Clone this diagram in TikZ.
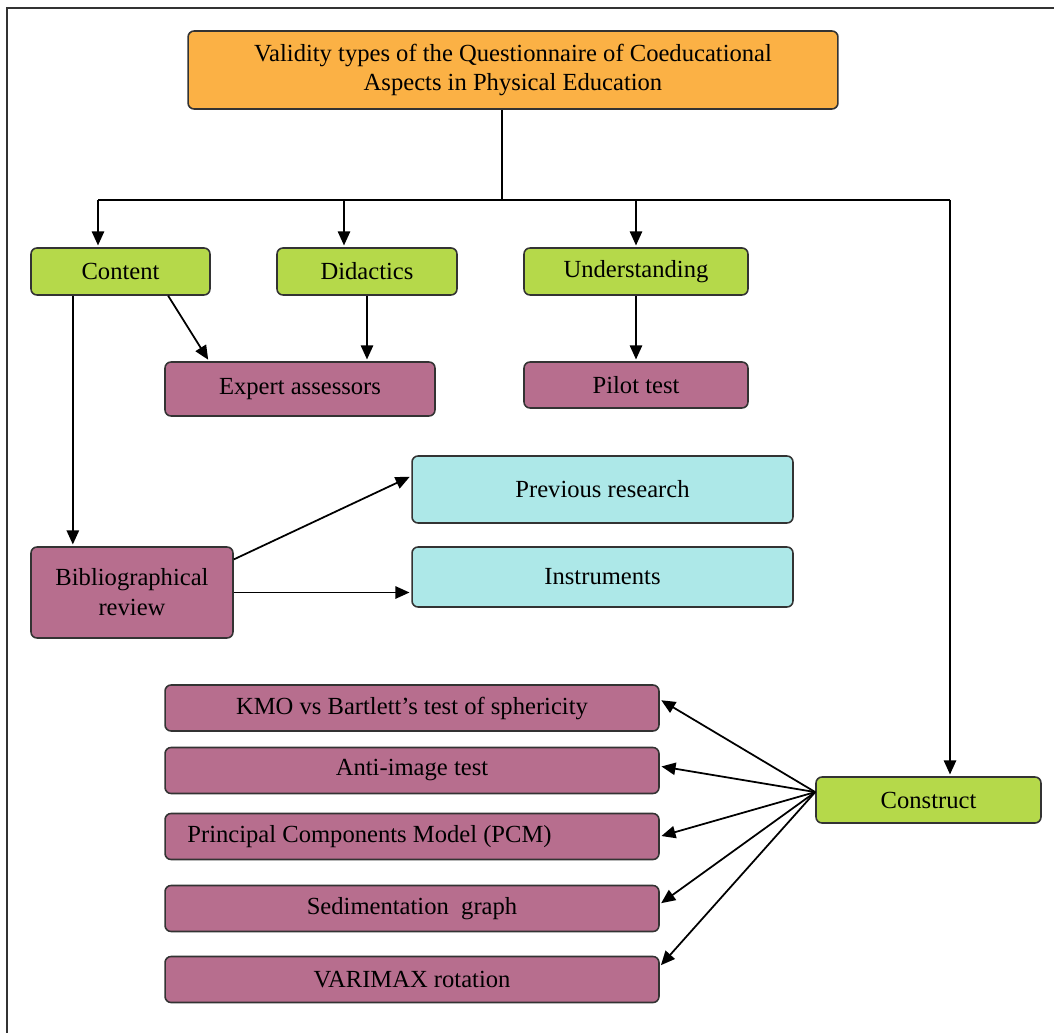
\documentclass[tikz,border=0pt]{standalone}
\usepackage{fontspec}
\setmainfont{Liberation Serif}
\usepackage{tikz}
\usetikzlibrary{arrows.meta,calc}

\definecolor{titleorange}{HTML}{FBB145}
\definecolor{typegreen}{HTML}{B5D94A}
\definecolor{procmauve}{HTML}{B76E8E}
\definecolor{srccyan}{HTML}{ADE8E8}
\definecolor{edgegray}{HTML}{333333}

\begin{document}
\begin{tikzpicture}[
    x=0.02cm, y=-0.02cm,
    box/.style={draw=edgegray, line width=0.9pt, rounded corners=0.12cm,
                inner sep=1pt, align=center,
                font=\fontsize{14}{17}\selectfont},
    headbox/.style={box, fill=titleorange},
    typebox/.style={box, fill=typegreen, minimum height=0.94cm},
    procbox/.style={box, fill=procmauve},
    srcbox/.style={box, fill=srccyan, minimum width=7.62cm},
    testbox/.style={procbox, minimum width=9.88cm, minimum height=0.92cm},
    arr/.style={-{Triangle[length=8pt,width=7pt]}, line width=1pt, shorten >=1pt},
    link/.style={line width=1pt}
]
\useasboundingbox (0,0) rectangle (1054,1033);

% frame (cut off at right and bottom)
\draw[line width=1.1pt, edgegray] (7,1033) -- (7,8) -- (1054,8);

% ================================================================
%  Title and the four validity types
% ================================================================
\node[headbox, minimum width=13cm, minimum height=1.56cm] (title) at (513,70)
    {Validity types of the Questionnaire of Coeducational\\ Aspects in Physical Education};

\node[typebox, minimum width=3.58cm] (content)    at (120.5,271.5) {Content};
\node[typebox, minimum width=3.6cm]  (didactics)  at (367,271.5)   {Didactics};
\node[typebox, minimum width=4.48cm] (understand) at (636,271.5)   {Understanding};
\node[typebox, minimum width=4.5cm, minimum height=0.92cm] (construct) at (928.5,800) {Construct};

% bus under the title
\coordinate (busM) at (502,200);
\coordinate (busL) at (98,200);
\coordinate (busD) at (344,200);
\coordinate (busU) at (636,200);
\coordinate (busR) at (950,200);

\draw[link] (title.south -| busM) -- (busM);
\draw[link] (busL) -- (busR);
\draw[arr] (busL) -- (busL |- content.north);
\draw[arr] (busD) -- (busD |- didactics.north);
\draw[arr] (busU) -- (busU |- understand.north);
\draw[arr] (busR) -- (busR |- construct.north);

% ================================================================
%  Content / Didactics / Understanding procedures
% ================================================================
\node[procbox, minimum width=5.4cm, minimum height=1.08cm] (expert) at (300,389) {Expert assessors};
\node[procbox, minimum width=4.48cm, minimum height=0.92cm] (pilot) at (636,385) {Pilot test};
\node[procbox, minimum width=4.04cm, minimum height=1.82cm] (biblio) at (132,592.5)
    {Bibliographical\\ review};

\draw[arr] (content.-27) -- (expert.163);
\draw[arr] (didactics.south) -- (didactics.south |- expert.north);
\draw[arr] (understand) -- (pilot);
\draw[arr] (content.207) -- (content.207 |- biblio.north);

\node[srcbox, minimum height=1.34cm] (prevres) at (602.5,489.5) {Previous research};
\node[srcbox, minimum height=1.2cm]  (instr)   at (602.5,577)   {Instruments};

\draw[arr] (biblio.18) -- (prevres.176);
\draw[arr] (biblio.east) -- (biblio.east -| instr.west);

% ================================================================
%  Construct analyses
% ================================================================
\node[testbox] (kmo)      at (412,708)   {KMO vs Bartlett’s test of sphericity};
\node[testbox] (antiimg)  at (412,770.5) {Anti-image test};
\node[testbox] (pcm)      at (412,836.5) {Principal Components Model (PCM)\hspace{1.7cm}};
\node[testbox] (sedgraph) at (412,908.5) {Sedimentation\ \ graph};
\node[testbox] (varimax)  at (412,979.5) {VARIMAX rotation};

\foreach \t/\a in {kmo/2, antiimg/1, pcm/0, sedgraph/1, varimax/3}
    \draw[arr] (construct.176) -- (\t.\a);
\end{tikzpicture}
\end{document}
